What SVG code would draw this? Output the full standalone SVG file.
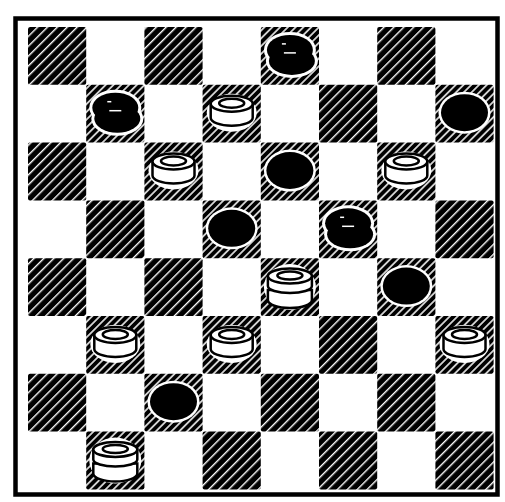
<svg xmlns="http://www.w3.org/2000/svg" xmlns:xlink="http://www.w3.org/1999/xlink" width="505" height="502" viewBox="0 0 505 502">
<defs>
<pattern id="hatch" patternUnits="userSpaceOnUse" width="7" height="7" patternTransform="rotate(45)">
<rect width="7" height="7" fill="#000"/>
<rect x="3" y="0" width="1.4" height="7" fill="#fff"/>
</pattern>
<pattern id="hatchfine" patternUnits="userSpaceOnUse" width="5.5" height="5.5" patternTransform="rotate(45)">
<rect width="5.5" height="5.5" fill="#000"/>
<rect x="2" y="0" width="1.5" height="5.5" fill="#fff"/>
</pattern>
<g id="wman">
<ellipse cx="0" cy="0" rx="25" ry="19" fill="#fff"/>
<path d="M-21,-9 L-21,5 A21,8 0 0 0 21,5 L21,-9 Z" fill="#fff" stroke="#000" stroke-width="2.5"/>
<ellipse cx="0" cy="-9" rx="21" ry="8" fill="#fff" stroke="#000" stroke-width="2.5"/>
<ellipse cx="0" cy="-9.5" rx="12.5" ry="4.5" fill="#fff" stroke="#000" stroke-width="2.5"/>
</g>
<g id="wking">
<ellipse cx="0" cy="0" rx="26" ry="23" fill="#fff"/>
<path d="M-22,3 L-22,13 A22,8 0 0 0 22,13 L22,3 Z" fill="#fff" stroke="#000" stroke-width="2.5"/>
<path d="M-22,-11 L-22,-1 A22,7 0 0 0 22,-1 L22,-11 Z" fill="#fff" stroke="#000" stroke-width="2.5"/>
<ellipse cx="0" cy="-11" rx="22" ry="7.5" fill="#fff" stroke="#000" stroke-width="2.5"/>
<ellipse cx="0" cy="-11.5" rx="12.5" ry="4" fill="#fff" stroke="#000" stroke-width="2.5"/>
</g>
<g id="bman">
<ellipse cx="0" cy="-1" rx="26" ry="21" fill="#fff"/>
<ellipse cx="0" cy="-1" rx="23.5" ry="18.5" fill="#000"/>
</g>
<g id="bking">
<ellipse cx="0" cy="-6" rx="26" ry="18" fill="#fff"/>
<ellipse cx="2" cy="5" rx="26" ry="17" fill="#fff"/>
<ellipse cx="0" cy="-6" rx="23" ry="15" fill="#000"/>
<ellipse cx="2" cy="5" rx="23" ry="14" fill="#000"/>
<path d="M-6,-3 L6,-3" stroke="#fff" stroke-width="1.5"/>
<path d="M-8,-12 L-4,-12" stroke="#fff" stroke-width="1.5"/>
</g>
</defs>
<style>
.dk{fill:url(#hatch)}
.pc{fill:url(#hatchfine)}
</style>
<rect width="505" height="502" fill="#fff"/>
<g id="board">
<rect x="15.5" y="18.5" width="482" height="476" fill="none" stroke="#000" stroke-width="4.5"/>
</g>
<g id="squares">
<rect id="sq-0-0" class="dk" x="28" y="27" width="58.2" height="57.8" rx="2"/>
<rect id="sq-0-2" class="dk" x="144.4" y="27" width="58.2" height="57.8" rx="2"/>
<rect id="sq-0-4" class="pc" x="260.8" y="27" width="58.2" height="57.8" rx="2"/>
<rect id="sq-0-6" class="dk" x="377.2" y="27" width="58.2" height="57.8" rx="2"/>
<rect id="sq-1-1" class="pc" x="86.2" y="84.8" width="58.2" height="57.8" rx="2"/>
<rect id="sq-1-3" class="pc" x="202.6" y="84.8" width="58.2" height="57.8" rx="2"/>
<rect id="sq-1-5" class="dk" x="319" y="84.8" width="58.2" height="57.8" rx="2"/>
<rect id="sq-1-7" class="pc" x="435.4" y="84.8" width="58.2" height="57.8" rx="2"/>
<rect id="sq-2-0" class="dk" x="28" y="142.6" width="58.2" height="57.8" rx="2"/>
<rect id="sq-2-2" class="pc" x="144.4" y="142.6" width="58.2" height="57.8" rx="2"/>
<rect id="sq-2-4" class="pc" x="260.8" y="142.6" width="58.2" height="57.8" rx="2"/>
<rect id="sq-2-6" class="pc" x="377.2" y="142.6" width="58.2" height="57.8" rx="2"/>
<rect id="sq-3-1" class="dk" x="86.2" y="200.4" width="58.2" height="57.8" rx="2"/>
<rect id="sq-3-3" class="pc" x="202.6" y="200.4" width="58.2" height="57.8" rx="2"/>
<rect id="sq-3-5" class="pc" x="319" y="200.4" width="58.2" height="57.8" rx="2"/>
<rect id="sq-3-7" class="dk" x="435.4" y="200.4" width="58.2" height="57.8" rx="2"/>
<rect id="sq-4-0" class="dk" x="28" y="258.2" width="58.2" height="57.8" rx="2"/>
<rect id="sq-4-2" class="dk" x="144.4" y="258.2" width="58.2" height="57.8" rx="2"/>
<rect id="sq-4-4" class="pc" x="260.8" y="258.2" width="58.2" height="57.8" rx="2"/>
<rect id="sq-4-6" class="pc" x="377.2" y="258.2" width="58.2" height="57.8" rx="2"/>
<rect id="sq-5-1" class="pc" x="86.2" y="316" width="58.2" height="57.8" rx="2"/>
<rect id="sq-5-3" class="pc" x="202.6" y="316" width="58.2" height="57.8" rx="2"/>
<rect id="sq-5-5" class="dk" x="319" y="316" width="58.2" height="57.8" rx="2"/>
<rect id="sq-5-7" class="pc" x="435.4" y="316" width="58.2" height="57.8" rx="2"/>
<rect id="sq-6-0" class="dk" x="28" y="373.8" width="58.2" height="57.8" rx="2"/>
<rect id="sq-6-2" class="pc" x="144.4" y="373.8" width="58.2" height="57.8" rx="2"/>
<rect id="sq-6-4" class="dk" x="260.8" y="373.8" width="58.2" height="57.8" rx="2"/>
<rect id="sq-6-6" class="dk" x="377.2" y="373.8" width="58.2" height="57.8" rx="2"/>
<rect id="sq-7-1" class="pc" x="86.2" y="431.6" width="58.2" height="57.8" rx="2"/>
<rect id="sq-7-3" class="dk" x="202.6" y="431.6" width="58.2" height="57.8" rx="2"/>
<rect id="sq-7-5" class="dk" x="319" y="431.6" width="58.2" height="57.8" rx="2"/>
<rect id="sq-7-7" class="dk" x="435.4" y="431.6" width="58.2" height="57.8" rx="2"/>
</g>
<g id="pieces">
<use id="p-0-4" xlink:href="#bking" x="289.9" y="55.9"/>
<use id="p-1-1" xlink:href="#bking" x="115.3" y="113.7"/>
<use id="p-1-3" xlink:href="#wman" x="231.7" y="112.7"/>
<use id="p-1-7" xlink:href="#bman" x="464.5" y="113.7"/>
<use id="p-2-2" xlink:href="#wman" x="173.5" y="170.5"/>
<use id="p-2-4" xlink:href="#bman" x="289.9" y="171.5"/>
<use id="p-2-6" xlink:href="#wman" x="406.3" y="170.5"/>
<use id="p-3-3" xlink:href="#bman" x="231.7" y="229.3"/>
<use id="p-3-5" xlink:href="#bking" x="348.1" y="229.3"/>
<use id="p-4-4" xlink:href="#wking" x="289.9" y="287.1"/>
<use id="p-4-6" xlink:href="#bman" x="406.3" y="287.1"/>
<use id="p-5-1" xlink:href="#wman" x="115.3" y="343.9"/>
<use id="p-5-3" xlink:href="#wman" x="231.7" y="343.9"/>
<use id="p-5-7" xlink:href="#wman" x="464.5" y="343.9"/>
<use id="p-6-2" xlink:href="#bman" x="173.5" y="402.7"/>
<use id="p-7-1" xlink:href="#wking" x="115.3" y="460.5"/>
</g>
</svg>
